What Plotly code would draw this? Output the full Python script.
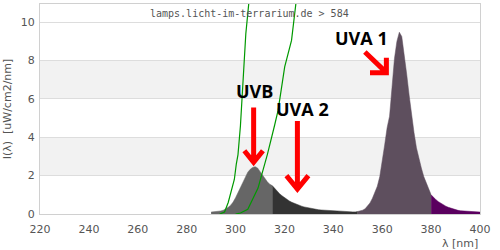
import plotly.graph_objects as go

# Spectral irradiance (uW/cm2/nm), 1 nm steps from 290 to 400 nm
wavelengths = list(range(290, 401))
irradiance = [
    0.10, 0.11, 0.12, 0.13, 0.16, 0.20, 0.27, 0.35, 0.46, 0.62,   # 290-299
    0.85, 1.12, 1.42, 1.72, 1.98, 2.18, 2.33, 2.43, 2.47, 2.40,   # 300-309
    2.22, 2.02, 1.84, 1.68, 1.55, 1.48, 1.32, 1.18, 1.06, 0.95,   # 310-319
    0.85, 0.76, 0.68, 0.61, 0.55, 0.49, 0.45, 0.41, 0.37, 0.34,   # 320-329
    0.31, 0.28, 0.26, 0.24, 0.22, 0.21, 0.20, 0.19, 0.18, 0.17,   # 330-339
    0.16, 0.15, 0.14, 0.13, 0.13, 0.12, 0.12, 0.11, 0.11, 0.11,   # 340-349
    0.13, 0.16, 0.20, 0.27, 0.40, 0.58, 0.82, 1.12, 1.45, 1.95,   # 350-359
    2.70, 3.60, 4.50, 5.10, 6.60, 8.10, 9.00, 9.48, 9.25, 8.40,   # 360-369
    7.30, 6.20, 5.15, 4.25, 3.45, 2.85, 2.40, 1.95, 1.60, 1.30,   # 370-379
    1.00, 0.86, 0.74, 0.64, 0.55, 0.48, 0.41, 0.35, 0.30, 0.26,   # 380-389
    0.22, 0.19, 0.17, 0.16, 0.15, 0.14, 0.13, 0.12, 0.11, 0.11,   # 390-399
    0.10,                                                         # 400
]

# Spectral bands: (start, end, colour)
band_edges = [290, 315, 350, 380, 400]
band_colors = ["#666666", "#333333", "#5e4f5e", "#5a005f"]

# Two reference curves (green)
curve1_x = [293.5, 295.5, 297.0, 298.0, 299.5, 300.3, 301.0, 302.0, 302.4, 303.5, 304.2, 305.5, 307.0]
curve1_y = [0.0, 0.1, 0.6, 1.1, 1.8, 2.6, 3.1, 4.6, 5.4, 7.7, 9.4, 11.1, 14.0]
curve2_x = [300.0, 302.0, 305.0, 306.0, 307.8, 309.2, 310.6, 312.0, 313.0, 316.0, 317.4, 320.1, 322.9, 324.8, 327.0]
curve2_y = [0.0, 0.05, 0.25, 0.5, 0.95, 1.35, 2.0, 2.6, 3.1, 4.64, 5.4, 7.67, 9.05, 11.1, 14.0]

x_ticks = list(range(220, 401, 20))
y_ticks = [0, 2, 4, 6, 8, 10]

fig = go.Figure()

for i, col in enumerate(band_colors):
    lo, hi = band_edges[i], band_edges[i + 1]
    xs = [w for w in wavelengths if lo <= w <= hi]
    ys = [irradiance[wavelengths.index(w)] for w in xs]
    fig.add_trace(go.Scatter(
        x=xs, y=ys, mode="lines", line=dict(shape="linear", width=0.5, color=col),
        fill="tozeroy", fillcolor=col, hoverinfo="skip", showlegend=False,
    ))

for cx, cy in [(curve1_x, curve1_y), (curve2_x, curve2_y)]:
    fig.add_trace(go.Scatter(
        x=cx, y=cy, mode="lines", line=dict(color="#009900", width=1.2),
        hoverinfo="skip", showlegend=False,
    ))

shapes = []
for y0, y1 in [(2, 4), (6, 8)]:
    shapes.append(dict(type="rect", xref="paper", yref="y", x0=0, x1=1, y0=y0, y1=y1,
                       fillcolor="#f2f2f2", line=dict(width=0), layer="below"))

red = dict(color="#ff0000", width=5)
# UVB arrow
shapes.append(dict(type="path", xref="x", yref="y", line=red,
                   path="M 307.4 5.55 L 307.4 2.75 M 303.6 3.3 L 307.4 2.7 L 311.2 3.3"))
# UVA 2 arrow
shapes.append(dict(type="path", xref="x", yref="y", line=red,
                   path="M 325.3 4.85 L 325.3 1.4 M 320.8 2.0 L 325.3 1.3 L 329.8 2.0"))
# UVA 1 arrow
shapes.append(dict(type="path", xref="x", yref="y", line=red,
                   path="M 352.9 8.45 L 361.5 7.4 M 355.0 7.37 L 361.7 7.37 L 361.7 8.15"))

annotations = [
    dict(text="lamps.licht-im-terrarium.de &gt; 584", xref="paper", yref="paper",
         x=0.476, y=1.0, xanchor="center", yanchor="top", yshift=-2, showarrow=False,
         font=dict(family="DejaVu Sans Mono", size=10, color="#555555")),
    dict(text="<b>UVB</b>", x=307.9, y=6.42, xref="x", yref="y", showarrow=False,
         font=dict(family="Open Sans", size=18, color="#000000")),
    dict(text="<b>UVA 2</b>", x=327.5, y=5.45, xref="x", yref="y", showarrow=False,
         font=dict(family="Open Sans", size=18, color="#000000")),
    dict(text="<b>UVA 1</b>", x=351.4, y=9.16, xref="x", yref="y", showarrow=False,
         font=dict(family="Open Sans", size=18, color="#000000")),
    dict(text="λ [nm]", xref="paper", yref="paper", x=1.0, y=0, xanchor="right",
         yanchor="top", yshift=-21, showarrow=False,
         font=dict(family="DejaVu Sans", size=11, color="#555555")),
]

fig.update_layout(
    width=500, height=250,
    margin=dict(l=40, r=20, t=4, b=36),
    paper_bgcolor="white", plot_bgcolor="white",
    shapes=shapes, annotations=annotations,
    font=dict(family="DejaVu Sans", size=11, color="#555555"),
    xaxis=dict(range=[220, 400], tickvals=x_ticks, showgrid=False, zeroline=False,
               showline=True, linecolor="#d0d0d0", linewidth=1, mirror=True,
               ticks="outside", ticklen=5, tickcolor="rgba(0,0,0,0)",
               tickfont=dict(size=11, color="#555555")),
    yaxis=dict(range=[0, 10.95], tickvals=y_ticks, showgrid=True, gridcolor="#dddddd",
               zeroline=False, showline=True, linecolor="#d0d0d0", linewidth=1, mirror=True,
               ticks="outside", ticklen=2, tickcolor="rgba(0,0,0,0)",
               tickfont=dict(size=11, color="#555555"),
               title=dict(text="I(λ)  [uW/cm2/nm]", font=dict(size=11, color="#555555"), standoff=6)),
)

fig.write_html("out.html")
